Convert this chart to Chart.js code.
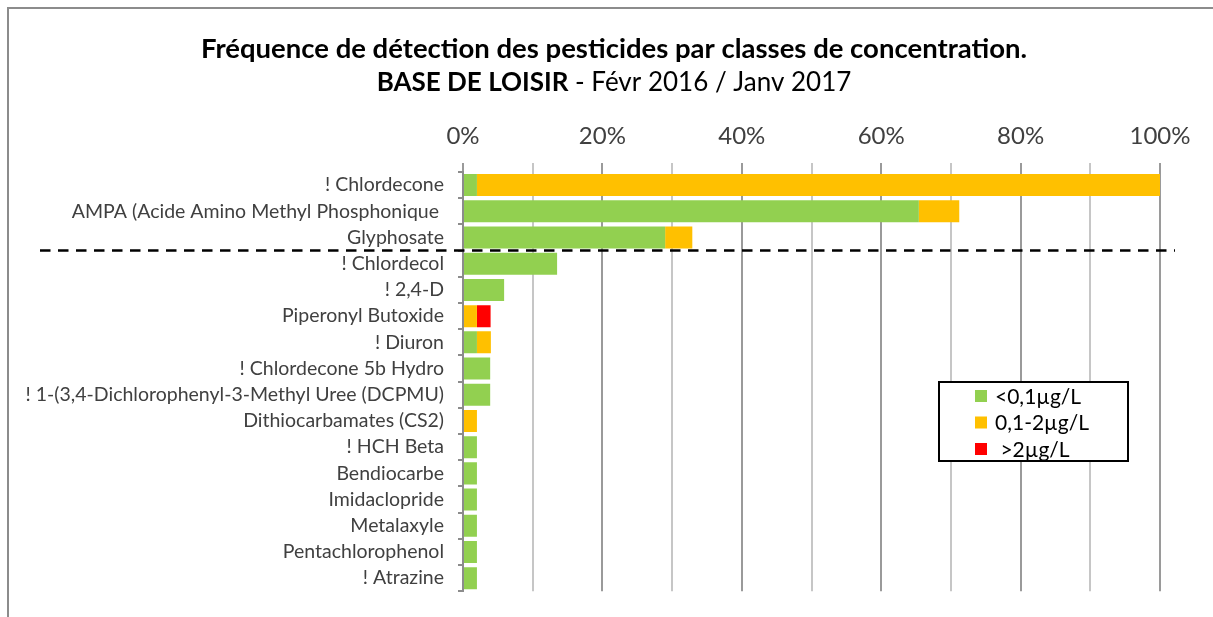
<!DOCTYPE html>
<html>
<head>
<meta charset="utf-8">
<script src="https://cdn.jsdelivr.net/npm/chart.js@4.4.0/dist/chart.umd.min.js"></script>
<style>
  body { margin: 0; background: #fff; }
  #wrap { width: 1213px; height: 617px; }
</style>
</head>
<body>
<div id="wrap"><canvas id="pestChart" width="1213" height="617"></canvas></div>
<script>
// ---------- data ----------
const categories = [
    '! Chlordecone',
    'AMPA (Acide Amino Methyl Phosphonique ',
    'Glyphosate',
    '! Chlordecol',
    '! 2,4-D',
    'Piperonyl Butoxide',
    '! Diuron',
    '! Chlordecone 5b Hydro',
    '! 1-(3,4-Dichlorophenyl-3-Methyl Uree (DCPMU)',
    'Dithiocarbamates (CS2)',
    '! HCH Beta',
    'Bendiocarbe',
    'Imidaclopride',
    'Metalaxyle',
    'Pentachlorophenol',
    '! Atrazine'
];
const seriesNames = ['<0,1µg/L', '0,1-2µg/L', ' >2µg/L'];
const lowConc  = [2, 65.4, 29, 13.5, 5.9, 0, 2, 3.9, 3.9, 0, 2, 2, 2, 2, 2, 2];
const midConc  = [98, 5.8, 3.9, 0, 0, 2, 2, 0, 0, 2, 0, 0, 0, 0, 0, 0];
const highConc = [0, 0, 0, 0, 0, 1.96, 0, 0, 0, 0, 0, 0, 0, 0, 0, 0];
const pctTicks = ['0%', '20%', '40%', '60%', '80%', '100%'];
const splitAfter = 2; // dashed separator after Glyphosate

const titleLine1 = 'Fréquence de détection des pesticides par classes de concentration.';
const titleBold = 'BASE DE LOISIR';
const titleRest = ' - Févr 2016 / Janv 2017';

const FONT = 'Lato, "Open Sans", sans-serif';

// frame around the whole picture (clipped right / bottom like the original)
const framePlugin = {
    id: 'frame',
    beforeDraw(chart) {
        const c = chart.ctx;
        c.save();
        c.strokeStyle = '#8c8c8c';
        c.lineWidth = 2;
        c.beginPath();
        c.moveTo(8, chart.height);
        c.lineTo(8, 8);
        c.lineTo(chart.width, 8);
        c.stroke();
        c.restore();
    }
};

// two title lines, second one mixes bold + normal
const titlePlugin = {
    id: 'twoLineTitle',
    afterDraw(chart) {
        const c = chart.ctx;
        const cx = 614;
        c.save();
        c.textBaseline = 'middle';
        c.fillStyle = '#000';
        c.textAlign = 'center';
        c.font = 'bold 27.5px ' + FONT;
        c.fillText(titleLine1, cx, 49);

        c.textAlign = 'left';
        c.font = 'bold 26px ' + FONT;
        const w1 = c.measureText(titleBold).width;
        c.font = '26px ' + FONT;
        const w2 = c.measureText(titleRest).width;
        const x0 = cx - (w1 + w2) / 2;
        c.font = 'bold 26px ' + FONT;
        c.fillText(titleBold, x0, 83);
        c.font = '26px ' + FONT;
        c.fillText(titleRest, x0 + w1, 83);
        c.restore();
    }
};

// dashed line between the top 3 and the rest
const separatorPlugin = {
    id: 'separator',
    afterDatasetsDraw(chart) {
        const y = chart.scales.y.getPixelForValue(splitAfter + 0.5);
        const c = chart.ctx;
        c.save();
        c.strokeStyle = '#000';
        c.lineWidth = 2.5;
        c.setLineDash([10.5, 7.5]);
        c.beginPath();
        c.moveTo(40, y);
        c.lineTo(1175, y);
        c.stroke();
        c.restore();
    }
};

// boxed legend inside the plot
const boxLegendPlugin = {
    id: 'boxLegend',
    afterDraw(chart) {
        const c = chart.ctx;
        const bx = 939, by = 382, bw = 189, bh = 79;
        c.save();
        c.fillStyle = '#fff';
        c.fillRect(bx, by, bw, bh);
        c.strokeStyle = '#000';
        c.lineWidth = 2;
        c.strokeRect(bx, by, bw, bh);
        c.font = '21px ' + FONT;
        c.textBaseline = 'middle';
        chart.data.datasets.forEach((ds, i) => {
            const cy = by + 14 + i * 26.5;
            c.fillStyle = ds.backgroundColor;
            c.fillRect(975, cy - 6, 12, 12);
            c.fillStyle = '#000';
            c.fillText(ds.label, 995, cy + 1);
        });
        c.restore();
    }
};

new Chart(document.getElementById('pestChart'), {
    type: 'bar',
    data: {
        labels: categories,
        datasets: [
            { label: seriesNames[0], data: lowConc,  backgroundColor: '#92D050' },
            { label: seriesNames[1], data: midConc,  backgroundColor: '#FFC000' },
            { label: seriesNames[2], data: highConc, backgroundColor: '#FF0000' }
        ]
    },
    options: {
        indexAxis: 'y',
        responsive: false,
        animation: false,
        layout: { padding: { left: 0, right: 53, top: 104.4, bottom: 25 } },
        datasets: { bar: { barPercentage: 0.84, categoryPercentage: 1 } },
        scales: {
            x: {
                position: 'top',
                stacked: true,
                min: 0,
                max: 100,
                border: { display: false },
                grid: {
                    color: ctx => (ctx.tick && ctx.tick.value % 20 === 0) ? '#9a9a9a' : '#c6c6c6',
                    lineWidth: 2,
                    drawTicks: true,
                    tickLength: 9
                },
                ticks: {
                    stepSize: 10,
                    autoSkip: false,
                    maxRotation: 0,
                    padding: 12,
                    color: '#404040',
                    font: { family: FONT, size: 24 },
                    callback: v => v % 20 === 0 ? pctTicks[v / 20] : ''
                },
                afterFit: s => { s.height = 67.6; }
            },
            y: {
                stacked: true,
                border: { color: '#8c8c8c', width: 2 },
                grid: {
                    offset: true,
                    drawOnChartArea: false,
                    drawTicks: true,
                    tickLength: 5,
                    color: '#8c8c8c',
                    lineWidth: 2
                },
                ticks: {
                    padding: 14,
                    autoSkip: false,
                    color: '#404040',
                    font: { family: FONT, size: 19.5 }
                },
                afterFit: s => { s.width = 463; }
            }
        },
        plugins: {
            legend: { display: false },
            tooltip: { enabled: false },
            title: { display: false }
        }
    },
    plugins: [framePlugin, titlePlugin, separatorPlugin, boxLegendPlugin]
});
</script>
</body>
</html>
